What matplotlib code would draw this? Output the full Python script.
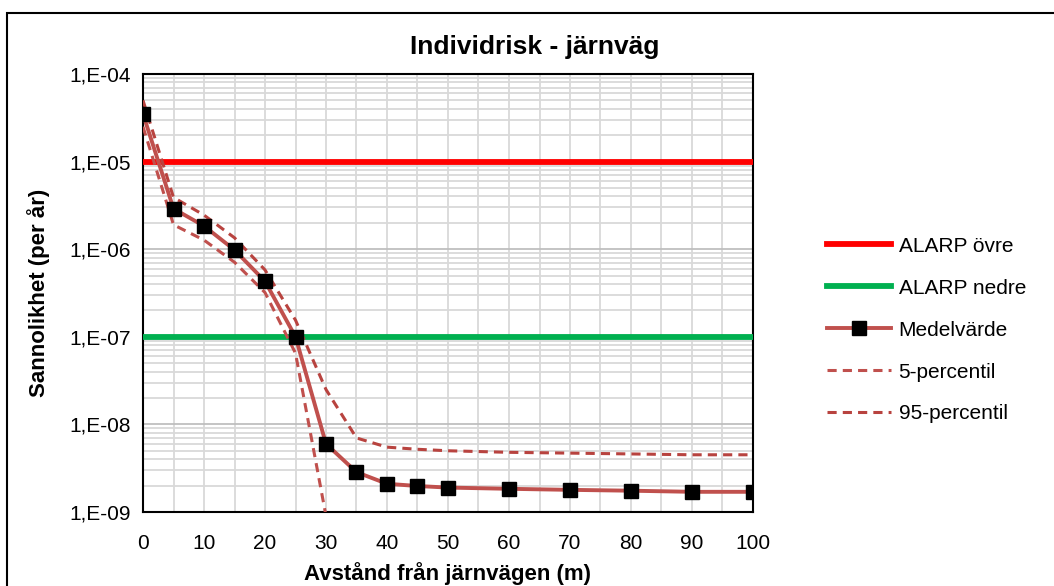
import math

import matplotlib
matplotlib.use("Agg")
import matplotlib.pyplot as plt
from matplotlib.patches import Rectangle
from matplotlib.ticker import FixedLocator, LogLocator, NullFormatter, FuncFormatter

plt.rcParams["font.family"] = ["Liberation Sans", "DejaVu Sans"]

# distance from railway (m)
distance = [0, 5, 10, 15, 20, 25, 30, 35, 40, 45, 50, 60, 70, 80, 90, 100]
mean_risk = [3.5e-5, 2.9e-6, 1.84e-6, 9.8e-7, 4.3e-7, 1.0e-7, 6.0e-9, 2.85e-9,
             2.1e-9, 1.98e-9, 1.9e-9, 1.84e-9, 1.79e-9, 1.75e-9, 1.7e-9, 1.7e-9]
p5_risk = [2.5e-5, 1.9e-6, 1.27e-6, 7.1e-7, 3.2e-7, 6.5e-8, 9.0e-10, 1e-12,
           1e-12, 1e-12, 1e-12, 1e-12, 1e-12, 1e-12, 1e-12, 1e-12]
p95_risk = [5.0e-5, 3.9e-6, 2.45e-6, 1.35e-6, 5.8e-7, 1.55e-7, 2.5e-8, 7.0e-9,
            5.5e-9, 5.2e-9, 5.0e-9, 4.8e-9, 4.7e-9, 4.6e-9, 4.5e-9, 4.5e-9]
alarp_upper = 1e-5
alarp_lower = 1e-7

fig = plt.figure(figsize=(10.54, 5.86), dpi=100)
ax = fig.add_axes([143 / 1054, 1 - 512 / 586, 610 / 1054, 438 / 586])

line_color = "#C0504D"
ax.plot([0, 100], [alarp_upper, alarp_upper], color="#FF0000", lw=4.2,
        label="ALARP övre", zorder=3)
ax.plot([0, 100], [alarp_lower, alarp_lower], color="#00B050", lw=4.2,
        label="ALARP nedre", zorder=3)
ax.plot(distance, mean_risk, color=line_color, lw=2.8, marker="s", ms=10,
        mfc="black", mec="black", label="Medelvärde", zorder=5)
ax.plot(distance, p5_risk, color=line_color, lw=2.2, ls=(0, (3, 2)),
        label="5-percentil", zorder=4)
ax.plot(distance, p95_risk, color="#B8433F", lw=2.2, ls=(0, (3, 2)),
        label="95-percentil", zorder=4)

ax.set_yscale("log")
ax.set_ylim(1e-9, 1e-4)
ax.set_xlim(0, 100)
ax.xaxis.set_major_locator(FixedLocator(range(0, 101, 10)))
ax.xaxis.set_minor_locator(FixedLocator(range(5, 100, 10)))
ax.yaxis.set_major_locator(LogLocator(base=10, numticks=10))
ax.yaxis.set_minor_locator(LogLocator(base=10, subs=range(2, 10), numticks=20))
ax.yaxis.set_minor_formatter(NullFormatter())
ax.yaxis.set_major_formatter(FuncFormatter(
    lambda v, pos: "1,E-%02d" % round(-math.log10(v))))

ax.grid(True, which="major", axis="y", color="#BFBFBF", lw=1.3)
ax.grid(True, which="minor", axis="y", color="#D9D9D9", lw=1.3)
ax.grid(True, which="both", axis="x", color="#D9D9D9", lw=1.3)
ax.set_axisbelow(True)

ax.tick_params(which="both", length=0, labelsize=15, colors="black")
ax.tick_params(axis="y", pad=9)
ax.tick_params(axis="x", pad=16)
for side in ["top", "right", "bottom", "left"]:
    ax.spines[side].set_color("black")
    ax.spines[side].set_linewidth(1.5)

fig.text(535 / 1054, 1 - 47 / 586, "Individrisk - järnväg", fontsize=19,
         fontweight="bold", ha="center", va="center")
ax.set_xlabel("Avstånd från järnvägen (m)", fontsize=16, fontweight="bold",
              labelpad=6)
ax.set_ylabel("Sannolikhet (per år)", fontsize=16, fontweight="bold",
              labelpad=14)

fig.legend(loc="upper left", bbox_to_anchor=(808 / 1054, 1 - 218 / 586),
           frameon=False, fontsize=15, handlelength=3.1, handletextpad=0.35,
           labelspacing=1.1)

fig.patches.append(Rectangle((7 / 1054, -0.05), 1.1, 1 - 13 / 586 + 0.05,
                             transform=fig.transFigure, fill=False,
                             edgecolor="black", lw=1.5))

fig.savefig("out.png", dpi=100)
